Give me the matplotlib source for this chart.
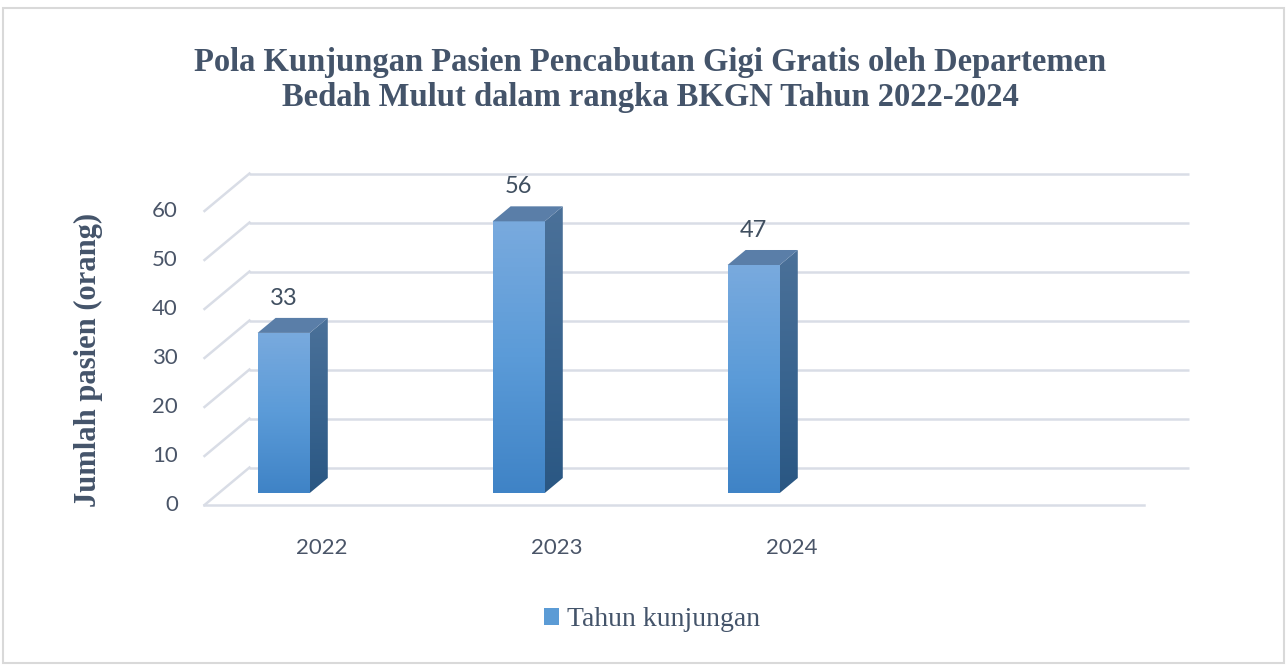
import numpy as np
import matplotlib.pyplot as plt
from matplotlib.patches import Polygon, Rectangle, Patch
from matplotlib.colors import LinearSegmentedColormap

# data
years = ['2022', '2023', '2024']
patients = [33, 56, 47]
y_ticks = [0, 10, 20, 30, 40, 50, 60]
n_slots = 4  # the Excel chart keeps an empty fourth category slot
title = ('Pola Kunjungan Pasien Pencabutan Gigi Gratis oleh Departemen\n'
         'Bedah Mulut dalam rangka BKGN Tahun 2022-2024')
y_label = 'Jumlah pasien (orang)'
legend_label = 'Tahun kunjungan'

# layout (pixels of the reference image)
W, H = 1287, 666
px_per_cat = 235.0
px_per_unit = 4.9
x_front_px = 204.5   # pixel column of the floor's left front corner
y_zero_px = 505.0    # pixel row of value 0 on the front plane

wall_dx, wall_dy = 45 / px_per_cat, 37.5 / px_per_unit    # back wall offset
bar_dx, bar_dy = -0.163, 2.45                              # bar position inside the box
bar_w = 0.222
depth_dx, depth_dy = 18 / px_per_cat, 15 / px_per_unit     # bar depth
bar_scale = 0.99

text_col = '#44546a'
grid_col = '#d9dde6'

fig = plt.figure(figsize=(W / 100, H / 100), dpi=100)
ax = fig.add_axes([0, 0, 1, 1])
ax.axis('off')

# gridlines: back wall + left wall diagonals
x_left, x_right = -0.5, n_slots - 0.5
for v in y_ticks:
    ax.plot([x_left + wall_dx, x_right + wall_dx], [v + wall_dy, v + wall_dy],
            color=grid_col, lw=1.8, zorder=1, solid_capstyle='butt')
    ax.plot([x_left, x_left + wall_dx], [v, v + wall_dy],
            color=grid_col, lw=1.8, zorder=1)
ax.plot([x_left, x_right], [0, 0], color=grid_col, lw=1.8, zorder=1)

front_cmap = LinearSegmentedColormap.from_list('front', ['#3f83c6', '#5b9bd8', '#79aade'])
side_cmap = LinearSegmentedColormap.from_list('side', ['#2a5783', '#3a6590', '#4b7199'])
grad = np.linspace(0, 1, 256).reshape(-1, 1)

for i, v in enumerate(patients):
    cx = i + bar_dx
    x0, x1 = cx - bar_w / 2, cx + bar_w / 2
    y0, y1 = bar_dy, bar_dy + v * bar_scale

    front = Polygon([(x0, y0), (x1, y0), (x1, y1), (x0, y1)], closed=True,
                    facecolor='none', edgecolor='none', zorder=3)
    ax.add_patch(front)
    im = ax.imshow(grad, cmap=front_cmap, extent=(x0, x1, y0, y1), origin='lower',
                   aspect='auto', zorder=3, interpolation='bilinear')
    im.set_clip_path(front)

    side = Polygon([(x1, y0), (x1 + depth_dx, y0 + depth_dy),
                    (x1 + depth_dx, y1 + depth_dy), (x1, y1)], closed=True,
                   facecolor='none', edgecolor='none', zorder=3)
    ax.add_patch(side)
    im2 = ax.imshow(grad, cmap=side_cmap, extent=(x1, x1 + depth_dx, y0, y1 + depth_dy),
                    origin='lower', aspect='auto', zorder=3, interpolation='bilinear')
    im2.set_clip_path(side)

    top = Polygon([(x0, y1), (x1, y1), (x1 + depth_dx, y1 + depth_dy),
                   (x0 + depth_dx, y1 + depth_dy)], closed=True,
                  facecolor='#5a7ea8', edgecolor='none', zorder=4)
    ax.add_patch(top)

    ax.annotate(str(v), (cx, y1 + depth_dy), xytext=(0, 14), textcoords='offset points',
                ha='center', va='center', fontsize=17, family='Lato', color='#404f60', zorder=5)

# tick labels
tick_x = x_left - 26.5 / px_per_cat
for v in y_ticks:
    ax.text(tick_x, v, str(v), ha='right', va='center', fontsize=16,
            family='Lato', color='#4a5568')
for i, yr in enumerate(years):
    ax.text(i, -43 / px_per_unit, yr, ha='center', va='center', fontsize=16,
            family='Lato', color='#4a5568')

ax.set_xlim(-0.5 - x_front_px / px_per_cat, -0.5 + (W - x_front_px) / px_per_cat)
ax.set_ylim(-(H - y_zero_px) / px_per_unit, y_zero_px / px_per_unit)

# title, axis label, legend
fig.text(650 / W, 1 - 80 / H, title, ha='center', va='center', fontsize=23.5,
         fontweight='bold', family='Liberation Serif', color=text_col, linespacing=1.2)
fig.text(88 / W, 1 - 360 / H, y_label, rotation=90, ha='center', va='center',
         fontsize=22, fontweight='bold', family='Liberation Serif', color=text_col)
fig.legend(handles=[Patch(facecolor='#5b9bd5', edgecolor='none')], labels=[legend_label],
           loc='center', bbox_to_anchor=(652 / W, 1 - 620 / H), frameon=False,
           handlelength=0.55, handleheight=0.55, handletextpad=0.3,
           prop={'family': 'Liberation Serif', 'size': 20}, labelcolor=text_col)

# chart border
fig.add_artist(Rectangle((3 / W, 3 / H), 1 - 6 / W, 1 - 11 / H, transform=fig.transFigure,
                         fill=False, edgecolor='#d9d9d9', lw=1.5))

fig.savefig('out.png', dpi=100)
